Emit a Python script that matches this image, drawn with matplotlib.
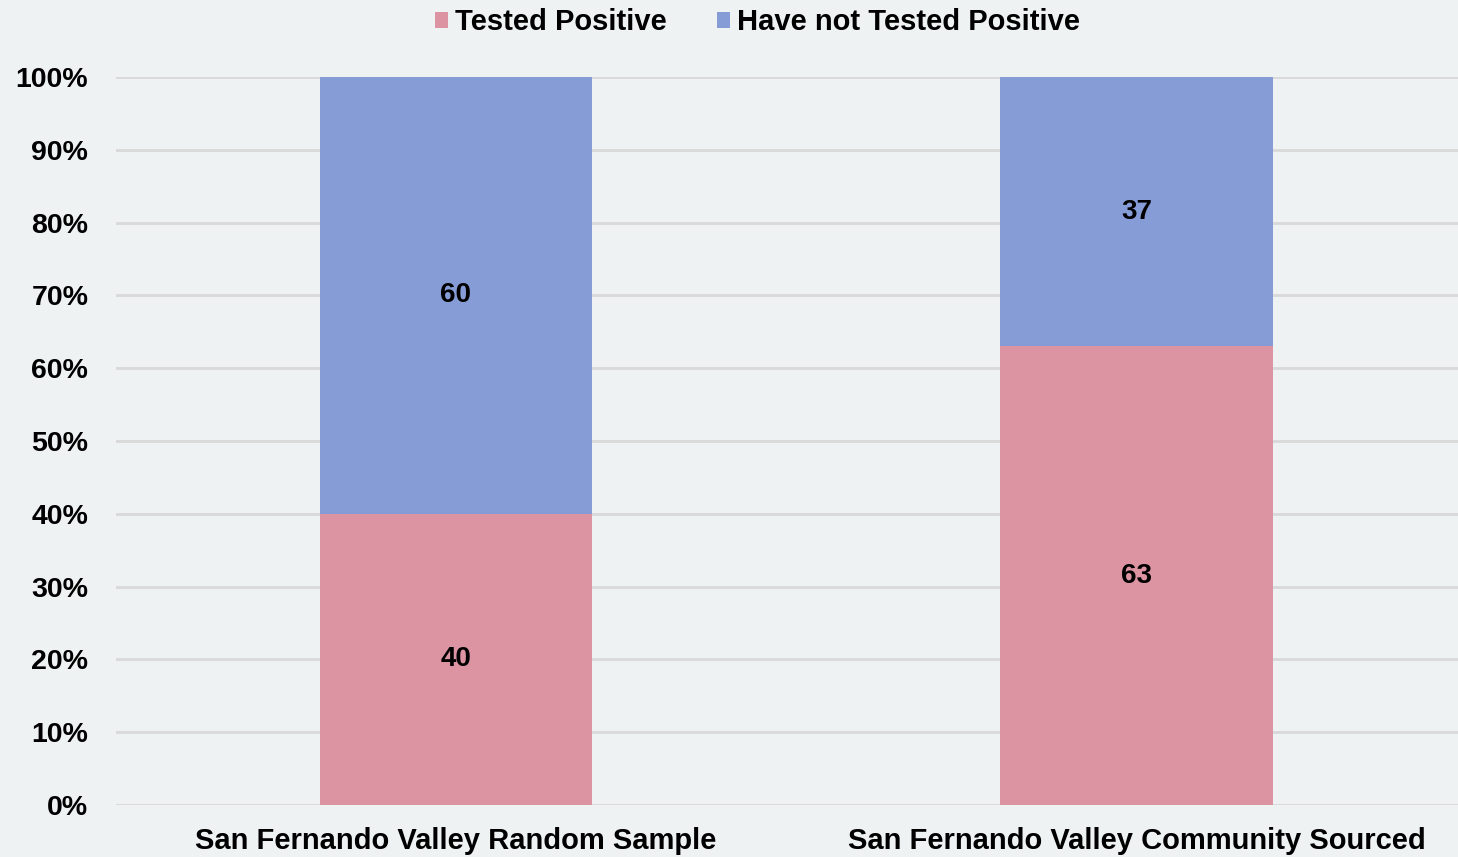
import numpy as np
import matplotlib.pyplot as plt

categories = ['San Fernando Valley Random Sample', 'San Fernando Valley Community Sourced']
tested_positive = [40, 63]
not_tested_positive = [60, 37]
series_names = ['Tested Positive', 'Have not Tested Positive']

plt.rcParams['font.family'] = ['Liberation Sans', 'DejaVu Sans']
plt.rcParams['font.weight'] = 'bold'

bg = '#EFF2F3'
c_pos = '#DC93A2'
c_neg = '#869CD6'

fig = plt.figure(figsize=(14.58, 8.57), dpi=100, facecolor=bg)
ax = fig.add_axes([0.0796, 0.0607, 0.9204, 0.8495])
ax.set_facecolor(bg)

x = np.arange(len(categories))
w = 0.40
b1 = ax.bar(x, tested_positive, width=w, color=c_pos, label=series_names[0], zorder=3)
b2 = ax.bar(x, not_tested_positive, width=w, bottom=tested_positive, color=c_neg, label=series_names[1], zorder=3)

for bars, vals, bottoms in [(b1, tested_positive, [0, 0]), (b2, not_tested_positive, tested_positive)]:
    for rect, v, b in zip(bars, vals, bottoms):
        ax.text(rect.get_x() + rect.get_width() / 2, b + v / 2, str(v),
                ha='center', va='center', fontsize=20, fontweight='bold', zorder=4)

ax.set_xlim(-0.499, 1.472)
ax.set_ylim(0, 100)
ax.set_yticks(np.arange(0, 101, 10))
ax.set_yticklabels([f'{t}%' for t in range(0, 101, 10)], fontsize=20.5, fontweight='bold')
ax.set_xticks(x)
ax.set_xticklabels(categories, fontsize=21, fontweight='bold')
ax.tick_params(axis='y', length=0, pad=20)
ax.tick_params(axis='x', length=0, pad=16)
ax.grid(axis='y', color='#D9D9D9', linewidth=2, zorder=0)
for s in ax.spines.values():
    s.set_visible(False)

h, l = ax.get_legend_handles_labels()
fig.legend(h, l, loc='center', bbox_to_anchor=(0.5196, 0.974), ncol=2, frameon=False,
           handlelength=0.45, handleheight=0.45, handletextpad=0.25,
           columnspacing=1.7, borderaxespad=0, borderpad=0,
           prop={'weight': 'bold', 'size': 21})

fig.savefig('out.png', dpi=100, facecolor=bg)
